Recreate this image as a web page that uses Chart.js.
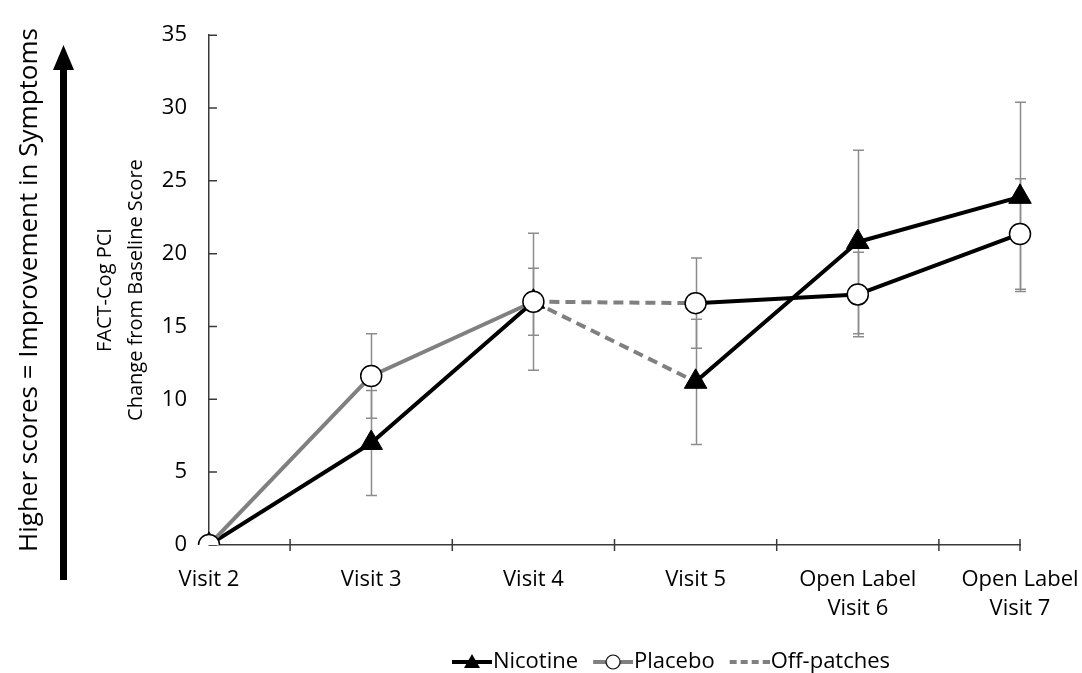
<!DOCTYPE html>
<html>
<head>
<meta charset="utf-8">
<script src="https://cdn.jsdelivr.net/npm/chart.js@4.4.1/dist/chart.umd.min.js"></script>
<style>
  html, body { margin: 0; padding: 0; background: #fff; }
  #wrap { width: 1082px; height: 673px; }
</style>
</head>
<body>
<div id="wrap"><canvas id="lineChart"></canvas></div>
<script>
// data
var visits = ['Visit 2', 'Visit 3', 'Visit 4', 'Visit 5', ['Open Label', 'Visit 6'], ['Open Label', 'Visit 7']];
var nicotineMeans = [0, 7.0, 16.7, 11.2, 20.8, 23.9];
var nicotineErrors = [0, 3.6, 4.7, 4.3, 6.3, 6.5];
var placeboMeans = [0, 11.6, 16.7, 16.6, 17.2, 21.35];
var placeboErrors = [0, 2.9, 2.3, 3.1, 2.9, 3.8];
var yTicks = [0, 5, 10, 15, 20, 25, 30, 35];
var offPatchSegment = 2; // Visit 4 -> Visit 5

var BLACK = '#000000';
var GRAY = '#808080';
var AXIS = '#3a3a3a';
var ERR = '#8c8c8c';

Chart.defaults.font.family = "'Open Sans', sans-serif";
Chart.defaults.color = '#000';

// legend sample: 17px empty on the left, then 40px of line + marker
function legendSample(kind) {
    var c = document.createElement('canvas');
    c.width = 57;
    c.height = 22;
    var g = c.getContext('2d');
    g.translate(17, 0);
    g.lineWidth = 4;
    g.strokeStyle = kind == 'nicotine' ? BLACK : GRAY;
    if (kind == 'off') g.setLineDash([7, 4]);
    g.beginPath();
    g.moveTo(0, 11);
    g.lineTo(40, 11);
    g.stroke();
    g.setLineDash([]);
    if (kind == 'nicotine') {
        g.fillStyle = BLACK;
        g.beginPath();
        g.moveTo(20, 3);
        g.lineTo(28, 17);
        g.lineTo(12, 17);
        g.closePath();
        g.fill();
    } else if (kind == 'placebo') {
        g.fillStyle = '#fff';
        g.strokeStyle = BLACK;
        g.lineWidth = 1.2;
        g.beginPath();
        g.arc(20, 11, 7, 0, Math.PI * 2);
        g.fill();
        g.stroke();
    }
    return c;
}
var samples = [legendSample('nicotine'), legendSample('placebo'), legendSample('off')];

var errorBars = {
    id: 'errorBars',
    beforeDatasetsDraw: function(chart) {
        var ctx = chart.ctx, xs = chart.scales.x, ys = chart.scales.y;
        ctx.save();
        ctx.strokeStyle = ERR;
        ctx.lineWidth = 1.5;
        [[nicotineMeans, nicotineErrors], [placeboMeans, placeboErrors]].forEach(function(s) {
            s[0].forEach(function(m, i) {
                var e = s[1][i];
                if (!e) return;
                var px = Math.round(xs.getPixelForValue(i)) + 0.5;
                var top = ys.getPixelForValue(m + e), bot = ys.getPixelForValue(m - e);
                ctx.beginPath();
                ctx.moveTo(px, top); ctx.lineTo(px, bot);
                ctx.moveTo(px - 5.5, top); ctx.lineTo(px + 5.5, top);
                ctx.moveTo(px - 5.5, bot); ctx.lineTo(px + 5.5, bot);
                ctx.stroke();
            });
        });
        ctx.restore();
    }
};

var axisTicks = {
    id: 'axisTicks',
    beforeDatasetsDraw: function(chart) {
        var ctx = chart.ctx, xs = chart.scales.x, ys = chart.scales.y, area = chart.chartArea;
        ctx.save();
        ctx.strokeStyle = AXIS;
        ctx.lineWidth = 1.5;
        ctx.beginPath();
        for (var i = 0; i < visits.length; i++) {
            var px = i < visits.length - 1
                ? (xs.getPixelForValue(i) + xs.getPixelForValue(i + 1)) / 2
                : xs.getPixelForValue(i);
            ctx.moveTo(px, area.bottom - 6);
            ctx.lineTo(px, area.bottom + 6);
        }
        yTicks.forEach(function(v) {
            var py = ys.getPixelForValue(v);
            ctx.moveTo(area.left, py);
            ctx.lineTo(area.left + 8, py);
        });
        ctx.stroke();
        ctx.restore();
    }
};

// big note and arrow on the far left
var sideNote = {
    id: 'sideNote',
    afterDraw: function(chart) {
        var ctx = chart.ctx;
        ctx.save();
        ctx.translate(30, 290);
        ctx.rotate(-Math.PI / 2);
        ctx.font = "26px 'Open Sans', sans-serif";
        ctx.fillStyle = '#000';
        ctx.textAlign = 'center';
        ctx.textBaseline = 'middle';
        ctx.fillText('Higher scores = Improvement in Symptoms', 0, 0);
        ctx.restore();

        ctx.save();
        ctx.fillStyle = '#000';
        ctx.fillRect(60, 66, 7, 514);
        ctx.beginPath();
        ctx.moveTo(63.5, 45);
        ctx.lineTo(74, 70);
        ctx.lineTo(53, 70);
        ctx.closePath();
        ctx.fill();
        ctx.restore();
    }
};

// move the legend under the plot like in the original
var legendShift = {
    id: 'legendShift',
    afterLayout: function(chart) {
        chart.legend.left += 84;
        chart.legend.right += 84;
    }
};

var ctx = document.getElementById('lineChart').getContext('2d');
new Chart(ctx, {
    type: 'line',
    data: {
        labels: visits,
        datasets: [
            {
                label: 'Nicotine',
                data: nicotineMeans,
                order: 1,
                borderColor: BLACK,
                borderWidth: 4,
                borderJoinStyle: 'round',
                pointStyle: 'triangle',
                pointRadius: 13,
                pointBackgroundColor: BLACK,
                pointBorderColor: BLACK,
                pointBorderWidth: 1,
                segment: {
                    borderColor: function(c) { return c.p0DataIndex === offPatchSegment ? GRAY : BLACK; },
                    borderDash: function(c) { return c.p0DataIndex === offPatchSegment ? [10, 6] : undefined; }
                }
            },
            {
                label: 'Placebo',
                data: placeboMeans,
                order: 0,
                borderColor: GRAY,
                borderWidth: 4,
                borderJoinStyle: 'round',
                pointStyle: 'circle',
                pointRadius: 10.5,
                pointBackgroundColor: '#fff',
                pointBorderColor: BLACK,
                pointBorderWidth: 1.5,
                segment: {
                    borderColor: function(c) { return c.p0DataIndex <= offPatchSegment ? GRAY : BLACK; },
                    borderDash: function(c) { return c.p0DataIndex === offPatchSegment ? [10, 6] : undefined; }
                }
            },
            {
                label: 'Off-patches',
                data: [],
                order: 2,
                borderColor: GRAY,
                borderWidth: 4,
                borderDash: [10, 6],
                pointRadius: 0
            }
        ]
    },
    options: {
        responsive: true,
        maintainAspectRatio: false,
        animation: false,
        devicePixelRatio: 1,
        layout: { padding: { left: 85, top: 33, right: 0, bottom: -10 } },
        plugins: {
            tooltip: { enabled: false },
            legend: {
                position: 'bottom',
                labels: {
                    usePointStyle: true,
                    pointStyleWidth: 37,
                    padding: 8,
                    font: { size: 22 },
                    color: '#000',
                    sort: function(a, b) { return a.datasetIndex - b.datasetIndex; },
                    generateLabels: function(chart) {
                        return chart.data.datasets.map(function(ds, i) {
                            return { text: ds.label, pointStyle: samples[i], datasetIndex: i, lineWidth: 0, hidden: false };
                        });
                    }
                }
            }
        },
        scales: {
            x: {
                offset: false,
                grid: { display: false, drawTicks: false },
                border: { display: true, color: AXIS, width: 1.5 },
                afterFit: function(scale) { scale.paddingRight = 62; },
                ticks: {
                    autoSkip: false,
                    maxRotation: 0,
                    padding: 20,
                    color: '#000',
                    font: { size: 22, lineHeight: 1.32 }
                }
            },
            y: {
                min: yTicks[0],
                max: yTicks[yTicks.length - 1],
                afterBuildTicks: function(scale) {
                    scale.ticks = yTicks.map(function(v) { return { value: v }; });
                },
                afterFit: function(scale) { scale.width = 124; },
                grid: { display: false, drawTicks: false },
                border: { display: true, color: AXIS, width: 1.5 },
                ticks: { padding: 22, color: '#000', font: { size: 22 } },
                title: {
                    display: true,
                    text: ['FACT-Cog PCI', 'Change from Baseline Score'],
                    color: '#000',
                    font: { size: 20, lineHeight: 1.55 },
                    padding: { top: 4.5, bottom: 12.5 }
                }
            }
        }
    },
    plugins: [errorBars, axisTicks, sideNote, legendShift]
});
</script>
</body>
</html>
